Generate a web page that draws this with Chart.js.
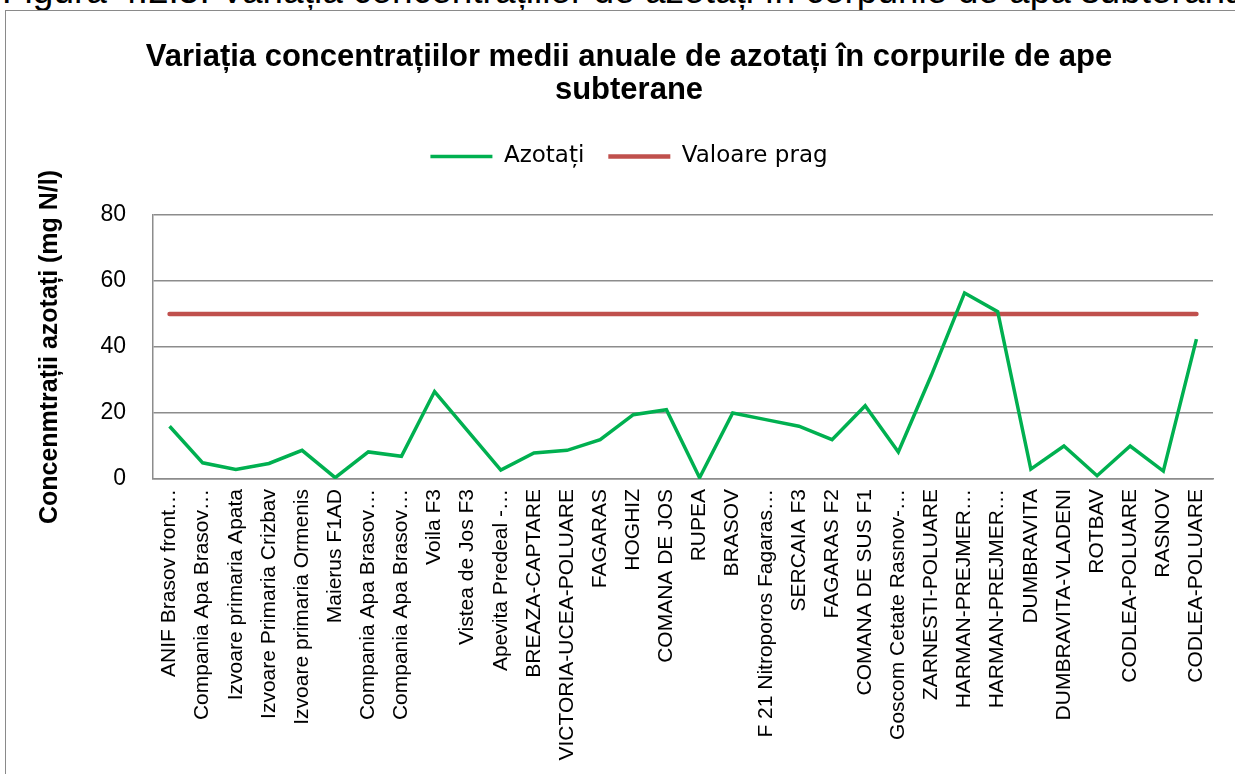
<!DOCTYPE html>
<html>
<head>
<meta charset="utf-8">
<script src="https://cdn.jsdelivr.net/npm/chart.js@4.4.1/dist/chart.umd.min.js"></script>
<style>
    html, body { margin: 0; padding: 0; background: #fff; overflow: hidden; width: 1235px; height: 774px; }
    #caption { position: absolute; left: 2px; top: -28px; font: 37px "Liberation Sans", Arial, sans-serif; line-height: 37px; white-space: nowrap; color: #000; }
    #frame { position: absolute; left: 5px; top: 10px; width: 1300px; height: 800px; border: 1.5px solid #8a8a8a; }
    #chart { position: absolute; left: 0; top: 0; }
</style>
</head>
<body>
<div id="caption">Figura 4.2.5: Variația concentrațiilor de azotați în corpurile de apă subterană</div>
<div id="frame"></div>
<canvas id="chart" width="1235" height="774"></canvas>
<script>
const stations = [
    'ANIF Brasov front…', 'Compania Apa Brasov…', 'Izvoare primaria Apata', 'Izvoare Primaria Crizbav',
    'Izvoare primaria Ormenis', 'Maierus F1AD', 'Compania Apa Brasov…', 'Compania Apa Brasov…',
    'Voila F3', 'Vistea de Jos F3', 'Apevita Predeal -…', 'BREAZA-CAPTARE',
    'VICTORIA-UCEA-POLUARE', 'FAGARAS', 'HOGHIZ', 'COMANA DE JOS',
    'RUPEA', 'BRASOV', 'F 21 Nitroporos Fagaras…', 'SERCAIA F3',
    'FAGARAS F2', 'COMANA DE SUS F1', 'Goscom Cetate Rasnov-…', 'ZARNESTI-POLUARE',
    'HARMAN-PREJMER…', 'HARMAN-PREJMER…', 'DUMBRAVITA', 'DUMBRAVITA-VLADENI',
    'ROTBAV', 'CODLEA-POLUARE', 'RASNOV', 'CODLEA-POLUARE'
]

// mg N/l
const nitrates = [
    16.0, 4.9, 2.9, 4.7, 8.7, 0.4, 8.2, 6.9,
    26.5, 14.6, 2.7, 7.9, 8.7, 11.9, 19.5, 21.0,
    0.4, 20.0, 18.0, 16.0, 11.9, 22.2, 8.2, 31.5,
    56.4, 50.7, 3.0, 10.0, 1.0, 10.0, 2.4, 42.4
]

const threshold = [
    50, 50, 50, 50, 50, 50, 50, 50,
    50, 50, 50, 50, 50, 50, 50, 50,
    50, 50, 50, 50, 50, 50, 50, 50,
    50, 50, 50, 50, 50, 50, 50, 50
]

const yTicks = [0, 20, 40, 60, 80]

const titleLines = ['Variația concentrațiilor medii anuale de azotați în corpurile de ape', 'subterane']

const axisGrey = '#8c8c8c'
Chart.defaults.font.family = '"Liberation Sans", Arial, sans-serif'
Chart.defaults.color = '#000'

// push the plot area a bit further below the legend
const legendGap = {
    id: 'legendGap',
    beforeInit(chart) {
        const fit = chart.legend.fit
        chart.legend.fit = function () {
            fit.call(this)
            this.height += 37
        }
    }
}

new Chart(document.getElementById('chart'), {
    type: 'line',
    data: {
        labels: stations,
        datasets: [
            {
                label: 'Azotați',
                data: nitrates,
                borderColor: '#00b050',
                backgroundColor: '#00b050',
                borderWidth: 3.5,
                pointRadius: 0,
                tension: 0,
                fill: false,
            },
            {
                label: 'Valoare prag',
                data: threshold,
                borderColor: '#c0504d',
                backgroundColor: '#c0504d',
                borderWidth: 4.5,
                borderCapStyle: 'round',
                pointRadius: 0,
                fill: false,
            },
        ]
    },
    options: {
        responsive: false,
        animation: false,
        devicePixelRatio: 1,
        layout: { padding: { left: 45, right: 22, top: 0, bottom: 0 } },
        plugins: {
            tooltip: { enabled: false },
            title: {
                display: true,
                text: titleLines,
                color: '#000',
                font: { size: 31, weight: 'bold', lineHeight: 1.065 },
                padding: { top: 40.5, bottom: 14.5 },
            },
            legend: {
                position: 'top',
                labels: {
                    usePointStyle: true,
                    pointStyle: 'line',
                    pointStyleWidth: 62,
                    padding: 24,
                    color: '#000',
                    font: { family: '"DejaVu Sans", sans-serif', size: 23 },
                },
            },
        },
        scales: {
            x: {
                offset: true,
                grid: { display: false, drawTicks: false },
                border: { display: true, color: axisGrey, width: 1.5 },
                ticks: {
                    autoSkip: false,
                    maxRotation: 90,
                    minRotation: 90,
                    padding: 10,
                    color: '#000',
                    font: { size: 21 },
                },
                afterFit(scale) { scale.height = 295 },
            },
            y: {
                min: 0,
                max: 80,
                afterBuildTicks(scale) { scale.ticks = yTicks.map(v => ({ value: v })) },
                grid: { color: axisGrey, lineWidth: 1.5, drawTicks: false },
                border: { display: true, color: axisGrey, width: 1.5 },
                ticks: { padding: 27, color: '#000', font: { size: 23 } },
                title: {
                    display: true,
                    text: 'Concenmtrații azotați (mg N/l)',
                    color: '#000',
                    font: { size: 25, weight: 'bold' },
                    padding: { top: -10, bottom: 0 },
                },
                afterFit(scale) { scale.width = 108 },
            },
        },
    },
    plugins: [legendGap],
})
</script>
</body>
</html>
